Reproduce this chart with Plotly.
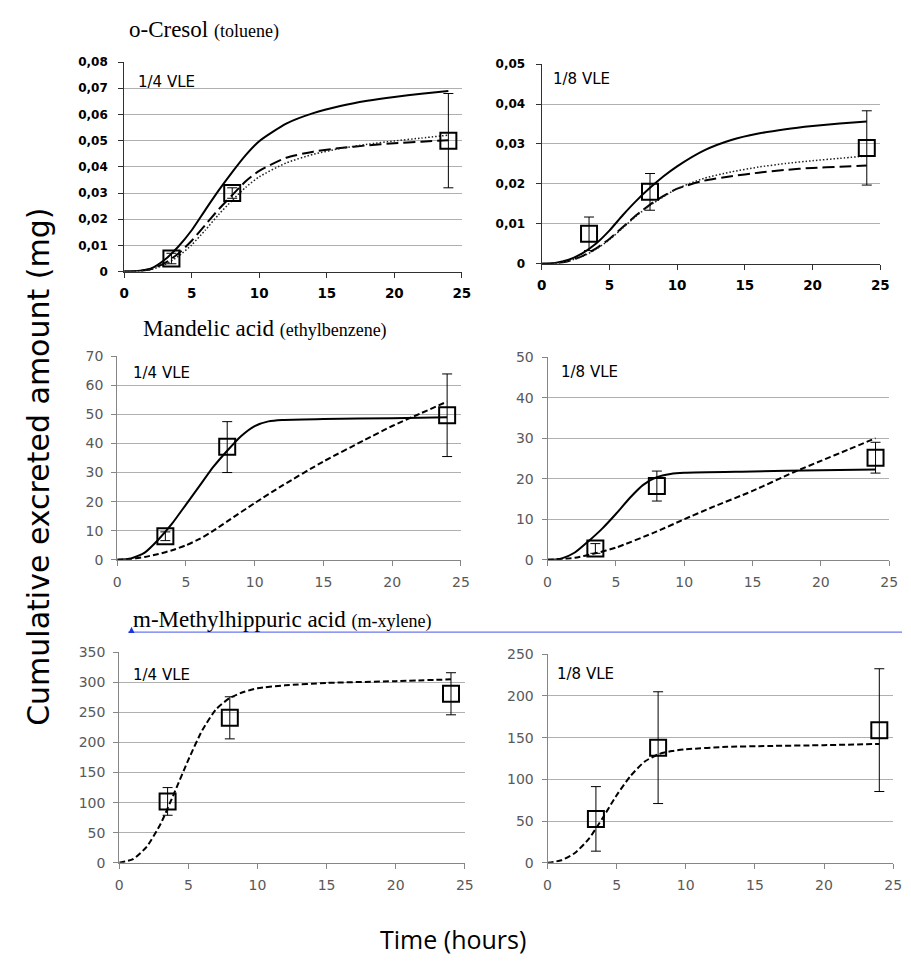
import plotly.graph_objects as go

W, H = 911, 977

# ---------------- data ----------------
time_points = [3.5, 8, 24]

# o-Cresol (toluene) 1/4 VLE
cres4_obs = [0.005, 0.030, 0.050]
cres4_err = [0.002, 0.002, 0.018]
cres4_t = [0, 1, 2, 3, 4, 5, 6, 7, 8, 9, 10, 12, 14, 16, 18, 20, 22, 24]
cres4_solid = [0, 0.0002, 0.0012, 0.0045, 0.0095, 0.0158, 0.0235, 0.031, 0.038, 0.0445, 0.0498, 0.0565, 0.0605, 0.0632, 0.0652, 0.0667, 0.0679, 0.069]
cres4_dash = [0, 0.0002, 0.001, 0.0032, 0.0068, 0.0118, 0.0178, 0.0238, 0.0292, 0.0345, 0.0385, 0.0435, 0.0458, 0.0472, 0.0482, 0.049, 0.0496, 0.0502]
cres4_dot = [0, 0.0001, 0.0008, 0.0026, 0.0058, 0.0102, 0.0158, 0.0218, 0.0272, 0.0322, 0.0362, 0.0415, 0.0448, 0.047, 0.0486, 0.0499, 0.051, 0.0521]

# o-Cresol (toluene) 1/8 VLE
cres8_obs = [0.0075, 0.018, 0.029]
cres8_err = [0.0042, 0.0046, 0.0093]
cres8_t = [0, 1, 2, 3, 4, 5, 6, 7, 8, 9, 10, 12, 14, 16, 18, 20, 22, 24]
cres8_solid = [0, 0.0002, 0.001, 0.0026, 0.005, 0.0083, 0.0122, 0.0158, 0.019, 0.0219, 0.0244, 0.0284, 0.031, 0.0326, 0.0337, 0.0345, 0.0351, 0.0356]
cres8_dash = [0, 0.0001, 0.0007, 0.0019, 0.0038, 0.0062, 0.0092, 0.0122, 0.0148, 0.017, 0.0188, 0.0208, 0.0219, 0.0228, 0.0235, 0.024, 0.0243, 0.0246]
cres8_dot = [0, 0.0001, 0.0007, 0.0018, 0.0036, 0.006, 0.009, 0.012, 0.0146, 0.0168, 0.0188, 0.0214, 0.023, 0.0242, 0.0251, 0.0258, 0.0264, 0.027]

# Mandelic acid (ethylbenzene) 1/4 VLE
mand4_obs = [8.1, 38.9, 49.7]
mand4_err_plus = [1.5, 8.6, 14.2]
mand4_err_minus = [1.5, 8.9, 14.2]
mand4_t = [0, 1, 2, 3, 4, 5, 6, 7, 8, 9, 10, 11, 12, 15, 20, 24]
mand4_solid = [0, 0.5, 2.5, 7, 12.5, 19, 25.5, 32, 37.5, 42.5, 46, 47.6, 48.1, 48.4, 48.7, 49.0]
mand4_dash_t = [0, 1, 2, 3, 4, 5, 6, 7, 8, 10, 12, 15, 18, 20, 22, 24]
mand4_dash = [0, 0.3, 1.0, 2.0, 3.3, 5.0, 7.2, 10.0, 13.2, 19.5, 25.5, 33.8, 41.2, 46, 50.2, 54.4]

# Mandelic acid (ethylbenzene) 1/8 VLE
mand8_obs = [2.8, 18.2, 25.2]
mand8_err = [1.2, 3.7, 3.8]
mand8_t = [0, 1, 2, 3, 4, 5, 6, 7, 8, 9, 10, 15, 20, 24]
mand8_solid = [0, 0.3, 1.8, 4.6, 7.7, 11.3, 15.2, 18.5, 20.4, 21.2, 21.5, 21.8, 22.1, 22.3]
mand8_dash_t = [0, 2, 3.5, 5, 8, 10, 12, 15, 18, 20, 22, 24]
mand8_dash = [0, 0.5, 1.6, 3.0, 7.0, 10.0, 12.9, 17.0, 21.6, 24.4, 27.2, 30.0]

# m-Methylhippuric acid (m-xylene) 1/4 VLE
mmh4_obs = [102, 241, 281]
mmh4_err = [23, 35, 35]
mmh4_t = [0, 1, 2, 3, 4, 5, 6, 7, 8, 9, 10, 12, 15, 20, 24]
mmh4_dash = [0, 6, 27, 65, 117, 171, 220, 255, 274, 284, 290, 295, 299, 302, 305]

# m-Methylhippuric acid (m-xylene) 1/8 VLE
mmh8_obs = [52.6, 138, 159]
mmh8_err = [38.7, 67, 73.6]
mmh8_t = [0, 1, 2, 3, 4, 5, 6, 7, 8, 9, 10, 13, 16, 20, 24]
mmh8_dash = [0, 3, 12, 29, 54, 81, 104, 121, 130, 134, 136, 139, 140, 141, 142.5]

x_ticks = [0, 5, 10, 15, 20, 25]
cres4_yticks = [0, 0.01, 0.02, 0.03, 0.04, 0.05, 0.06, 0.07, 0.08]
cres4_ylabels = ["0", "0,01", "0,02", "0,03", "0,04", "0,05", "0,06", "0,07", "0,08"]
cres8_yticks = [0, 0.01, 0.02, 0.03, 0.04, 0.05]
cres8_ylabels = ["0", "0,01", "0,02", "0,03", "0,04", "0,05"]
mand4_yticks = [0, 10, 20, 30, 40, 50, 60, 70]
mand8_yticks = [0, 10, 20, 30, 40, 50]
mmh4_yticks = [0, 50, 100, 150, 200, 250, 300, 350]
mmh8_yticks = [0, 50, 100, 150, 200, 250]

panel_titles = ["o-Cresol", "Mandelic acid", "m-Methylhippuric acid"]
panel_subtitles = ["(toluene)", "(ethylbenzene)", "(m-xylene)"]
dose_labels = ["1/4 VLE", "1/8 VLE"]
y_title = "Cumulative excreted amount (mg)"
x_title = "Time (hours)"

# ---------------- layout helpers ----------------
def dx(a, b):
    return [a / W, b / W]

def dy(top, bottom):
    return [1 - bottom / H, 1 - top / H]

fig = go.Figure()

SOLID = dict(color="black", width=2, dash="solid")
LONGDASH = dict(color="black", width=2, dash="12px,5px")
DOTTED = dict(color="#222222", width=1.5, dash="1.5px,2px")
SHORTDASH = dict(color="black", width=2, dash="6px,3px")


def curve(ax, t, y, style):
    fig.add_trace(go.Scatter(x=t, y=y, mode="lines", line=dict(**style, shape="spline", smoothing=0.6),
                             xaxis="x" + ax, yaxis="y" + ax, showlegend=False, hoverinfo="skip"))


def obs(ax, y, ep, em=None):
    err = dict(type="data", array=ep, symmetric=em is None, color="black", thickness=1, width=5)
    if em is not None:
        err["arrayminus"] = em
    fig.add_trace(go.Scatter(x=time_points, y=y, mode="markers", error_y=err,
                             marker=dict(symbol="square-open", size=16, color="black", line=dict(width=2)),
                             xaxis="x" + ax, yaxis="y" + ax, showlegend=False))


# panel 1
curve("", cres4_t, cres4_solid, SOLID)
curve("", cres4_t, cres4_dash, LONGDASH)
curve("", cres4_t, cres4_dot, DOTTED)
obs("", cres4_obs, cres4_err)
# panel 2
curve("2", cres8_t, cres8_solid, SOLID)
curve("2", cres8_t, cres8_dash, LONGDASH)
curve("2", cres8_t, cres8_dot, DOTTED)
obs("2", cres8_obs, cres8_err)
# panel 3
curve("3", mand4_t, mand4_solid, SOLID)
curve("3", mand4_dash_t, mand4_dash, SHORTDASH)
obs("3", mand4_obs, mand4_err_plus, mand4_err_minus)
# panel 4
curve("4", mand8_t, mand8_solid, SOLID)
curve("4", mand8_dash_t, mand8_dash, SHORTDASH)
obs("4", mand8_obs, mand8_err)
# panel 5
curve("5", mmh4_t, mmh4_dash, SHORTDASH)
obs("5", mmh4_obs, mmh4_err)
# panel 6
curve("6", mmh8_t, mmh8_dash, SHORTDASH)
obs("6", mmh8_obs, mmh8_err)

panels = [
    # (suffix, xdom px, ydom px, yrange, yticks, ylabels, bold)
    ("", (121, 464), (55, 268), [0, 0.08], cres4_yticks, cres4_ylabels, True),
    ("2", (545, 889), (57, 260), [0, 0.05], cres8_yticks, cres8_ylabels, True),
    ("3", (114, 463), (354, 561), [0, 70], mand4_yticks, [str(v) for v in mand4_yticks], False),
    ("4", (551, 898), (355, 561), [0, 50], mand8_yticks, [str(v) for v in mand8_yticks], False),
    ("5", (116, 467), (655, 869), [0, 350], mmh4_yticks, [str(v) for v in mmh4_yticks], False),
    ("6", (551, 902), (657, 869), [0, 250], mmh8_yticks, [str(v) for v in mmh8_yticks], False),
]

layout = dict(width=W, height=H, margin=dict(l=0, r=0, t=0, b=0),
              paper_bgcolor="white", plot_bgcolor="white", showlegend=False)

for suf, (xa, xb), (ya, yb), yr, yt, yl, bold in panels:
    if bold:
        xfont = dict(family="DejaVu Sans", size=13.5, color="black", weight="bold")
        yfont = dict(family="DejaVu Sans", size=12, color="black", weight="bold")
        axcol = "#303030"
        ystand = 8
    else:
        xfont = dict(family="DejaVu Sans", size=14, color="#595959")
        yfont = dict(family="DejaVu Sans", size=14, color="#595959")
        axcol = "#868686"
        ystand = 5
    layout["xaxis" + suf] = dict(domain=dx(xa, xb), anchor="y" + suf, range=[0, 25],
                                 tickvals=x_ticks, ticktext=[str(v) for v in x_ticks],
                                 showgrid=False, zeroline=False, showline=True, linecolor=axcol, linewidth=1,
                                 ticks="outside", ticklen=5, tickcolor=axcol, tickfont=xfont,
                                 ticklabelstandoff=4, fixedrange=True)
    layout["yaxis" + suf] = dict(domain=dy(ya, yb), anchor="x" + suf, range=yr,
                                 tickvals=yt, ticktext=yl,
                                 showgrid=True, gridcolor="#b0b0b0", gridwidth=1, zeroline=False,
                                 showline=True, linecolor=axcol, linewidth=1,
                                 ticks="outside", ticklen=5, tickcolor=axcol, tickfont=yfont,
                                 ticklabelstandoff=ystand, fixedrange=True)

fig.update_layout(**layout)

ann = []
# panel titles
title_pos = [(124, 22), (138, 326), (128, 622)]
for (px, py), t, s in zip(title_pos, panel_titles, panel_subtitles):
    ann.append(dict(x=px / W, y=1 - py / H, xref="paper", yref="paper", xanchor="left", yanchor="middle",
                    showarrow=False,
                    text=t + " <span style='font-size:18px'>" + s + "</span>",
                    font=dict(family="Liberation Serif", size=23, color="black")))
# dose labels
dose_pos = [(133, 75, 0), (555, 72, 1), (128, 371, 0), (563, 370, 1), (128, 678, 0), (559, 677, 1)]
for px, py, k in dose_pos:
    ann.append(dict(x=px / W, y=1 - py / H, xref="paper", yref="paper", xanchor="left", yanchor="middle",
                    showarrow=False, text=dose_labels[k],
                    font=dict(family="DejaVu Sans", size=15, color="black")))
# axis titles
ann.append(dict(x=34 / W, y=1 - 466 / H, xref="paper", yref="paper", xanchor="center", yanchor="middle",
                showarrow=False, text=y_title, textangle=-90,
                font=dict(family="DejaVu Sans", size=30, color="black")))
ann.append(dict(x=455 / W, y=1 - 946 / H, xref="paper", yref="paper", xanchor="center", yanchor="middle",
                showarrow=False, text=x_title,
                font=dict(family="Open Sans", size=25, color="black")))
fig.update_layout(annotations=ann)

# stray blue line with small marker (artifact in the original figure)
fig.add_shape(type="line", xref="paper", yref="paper", x0=125 / W, x1=1, y0=1 - 634.5 / H, y1=1 - 634.5 / H,
              line=dict(color="#4455ee", width=1))
fig.add_shape(type="path", xref="paper", yref="paper",
              path="M %f %f L %f %f L %f %f Z" % (125.5 / W, 1 - 635.5 / H, 131.5 / W, 1 - 635.5 / H, 128.5 / W, 1 - 629 / H),
              fillcolor="#1a33dd", line=dict(color="#1a33dd", width=0))

fig.write_html("out.html")
